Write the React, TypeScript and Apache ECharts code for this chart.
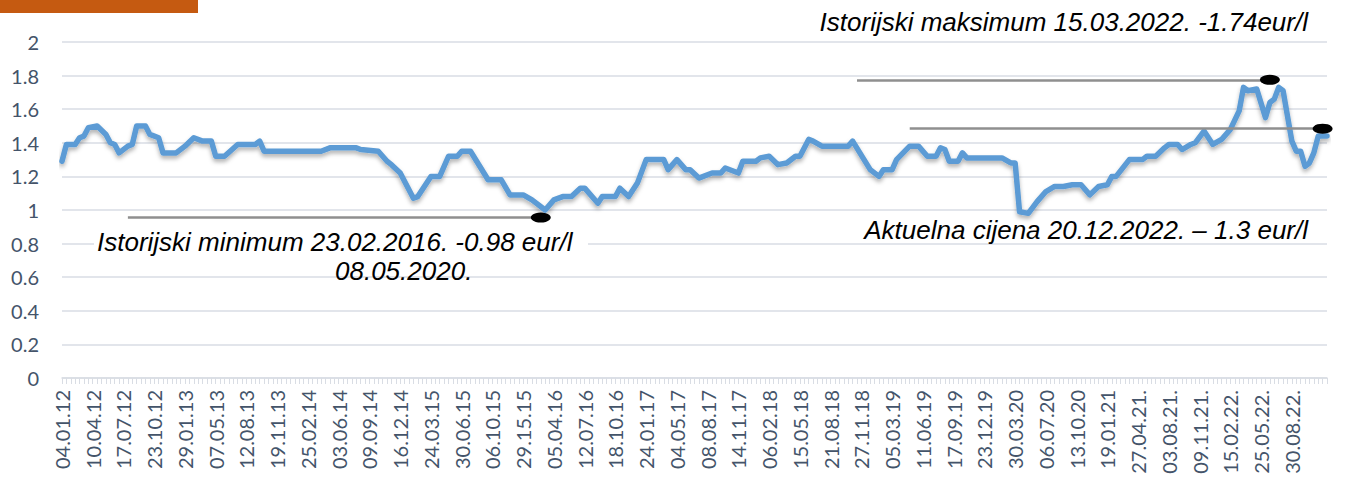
import React, { useEffect, useRef } from "react";
import * as echarts from "echarts";

// Tick labels shown on the category axis (one every 7 fortnightly price changes)
const tickLabels = [
  "04.01.12", "10.04.12", "17.07.12", "23.10.12", "29.01.13", "07.05.13", "12.08.13",
  "19.11.13", "25.02.14", "03.06.14", "09.09.14", "16.12.14", "24.03.15", "30.06.15",
  "06.10.15", "29.15.15", "05.04.16", "12.07.16", "18.10.16", "24.01.17", "04.05.17",
  "08.08.17", "14.11.17", "06.02.18", "15.05.18", "21.08.18", "27.11.18", "05.03.19",
  "11.06.19", "17.09.19", "23.12.19", "30.03.20", "06.07.20", "13.10.20", "19.01.21",
  "27.04.21.", "03.08.21.", "09.11.21.", "15.02.22.", "25.05.22.", "30.08.22.",
];
const categoriesPerLabel = 7;
const categoryCount = 289;

const changeIndex = [
  0, 1, 3, 4, 5, 6, 8, 10, 11, 12, 13, 15, 16, 17, 19, 20, 22, 23, 26, 28,
  30, 32, 34, 35, 37, 40, 44, 45, 46, 59, 61, 67, 68, 72, 74, 75, 77, 80, 81, 84,
  86, 88, 90, 91, 93, 97, 100, 102, 105, 107, 110, 112, 114, 116, 118, 119, 122, 123, 126, 127,
  129, 131, 133, 137, 138, 140, 142, 143, 145, 148, 150, 151, 154, 155, 158, 159, 161, 163, 165, 167,
  168, 170, 171, 173, 179, 180, 184, 186, 187, 189, 190, 193, 195, 197, 199, 200, 201, 202, 204, 205,
  206, 214, 216, 217, 218, 220, 222, 224, 226, 228, 230, 232, 234, 236, 238, 239, 240, 243, 246, 247,
  249, 251, 252, 254, 255, 257, 258, 260, 262, 264, 266, 268, 269, 270, 272, 274, 275, 276, 277, 278,
  280, 281, 282, 283, 284, 285, 286, 288,
];
const priceEur = [
  1.29, 1.39, 1.39, 1.43, 1.44, 1.49, 1.50, 1.45, 1.40, 1.39, 1.34, 1.38, 1.39, 1.50, 1.50, 1.45, 1.43, 1.34, 1.34, 1.38,
  1.43, 1.41, 1.41, 1.32, 1.32, 1.39, 1.39, 1.41, 1.35, 1.35, 1.37, 1.37, 1.36, 1.35, 1.29, 1.27, 1.22, 1.07, 1.08, 1.20,
  1.20, 1.32, 1.32, 1.35, 1.35, 1.18, 1.18, 1.09, 1.09, 1.06, 1.00, 1.06, 1.08, 1.08, 1.13, 1.13, 1.04, 1.08, 1.08, 1.13,
  1.08, 1.16, 1.30, 1.30, 1.24, 1.30, 1.24, 1.24, 1.19, 1.22, 1.22, 1.25, 1.22, 1.29, 1.29, 1.31, 1.32, 1.27, 1.28, 1.32,
  1.32, 1.42, 1.41, 1.38, 1.38, 1.41, 1.24, 1.20, 1.24, 1.24, 1.30, 1.38, 1.38, 1.32, 1.32, 1.37, 1.36, 1.29, 1.29, 1.34,
  1.31, 1.31, 1.28, 1.28, 0.99, 0.98, 1.05, 1.11, 1.14, 1.14, 1.15, 1.15, 1.09, 1.14, 1.15, 1.20, 1.20, 1.30, 1.30, 1.32,
  1.32, 1.37, 1.39, 1.39, 1.36, 1.39, 1.40, 1.47, 1.39, 1.42, 1.48, 1.59, 1.73, 1.71, 1.72, 1.55, 1.64, 1.66, 1.73, 1.71,
  1.41, 1.35, 1.35, 1.26, 1.28, 1.34, 1.44, 1.44,
];

// Annotations: reference lines [startIndex, endIndex, level] and their texts
const minimumLine = [15, 109, 0.955];
const maximumLine = [181, 275, 1.775];
const currentLine = [192.5, 286.6, 1.484];
const maximumText = "Istorijski maksimum 15.03.2022. -1.74eur/l";
const minimumText = "Istorijski minimum 23.02.2016. -0.98 eur/l";
const minimumText2 = "08.05.2020.";
const currentText = "Aktuelna cijena 20.12.2022. – 1.3 eur/l";

const categories: string[] = [];
for (let i = 0; i < categoryCount; i++) {
  categories.push(i % categoriesPerLabel === 0 ? tickLabels[i / categoriesPerLabel] ?? "" : "");
}
const seriesData = changeIndex.map((x, i) => [x, priceEur[i]]);

const refLines = [minimumLine, maximumLine, currentLine];

export default function App() {
  const ref = useRef<HTMLDivElement>(null);
  useEffect(() => {
    if (!ref.current) return;
    const chart = echarts.init(ref.current, null, { renderer: "svg" });
    const annFont = "italic 26px 'Liberation Sans', Arial, sans-serif";
    const txt = (text: string, x: number, y: number, align: string) => ({
      type: "text",
      z: 101,
      style: { text, x, y, font: annFont, fill: "#000", align, verticalAlign: "middle", textAlign: align, textVerticalAlign: "middle" },
    });
    chart.setOption({
      animation: false,
      grid: { left: 62, right: 27, top: 42, bottom: 106, containLabel: false },
      xAxis: {
        type: "category",
        data: categories,
        boundaryGap: false,
        axisLine: { lineStyle: { color: "#d9dde4", width: 1.5 } },
        axisTick: { show: true, interval: 0, length: 6, lineStyle: { color: "#d9dde4", width: 1 } },
        axisLabel: {
          interval: 0,
          rotate: 90,
          margin: 12,
          color: "#44546a",
          fontFamily: "Lato",
          fontSize: 20,
        },
        splitLine: { show: false },
      },
      yAxis: {
        type: "value",
        min: 0,
        max: 2,
        interval: 0.2,
        axisLine: { show: false },
        axisTick: { show: false },
        axisLabel: { color: "#44546a", fontFamily: "Lato", fontSize: 20, margin: 23 },
        splitLine: { lineStyle: { color: "#d9dde4", width: 1.5 } },
      },
      series: [
        {
          type: "line",
          data: seriesData,
          showSymbol: false,
          symbol: "none",
          lineStyle: {
            color: "#5b9bd5",
            width: 5.5,
            join: "round",
            cap: "round",
            shadowColor: "rgba(0,0,0,0.3)",
            shadowBlur: 4,
            shadowOffsetY: 3,
          },
          markLine: {
            silent: true,
            symbol: "none",
            label: { show: false },
            lineStyle: { color: "#8f8f8f", width: 2.5, type: "solid" },
            data: refLines.map((l) => [{ coord: [l[0], l[2]] }, { coord: [l[1], l[2]] }]),
          },
          markPoint: {
            silent: true,
            symbol: "circle",
            symbolSize: [20, 10],
            itemStyle: { color: "#000000" },
            label: { show: false },
            data: refLines.map((l) => ({ coord: [l[1], l[2]] })),
          },
        },
      ],
      graphic: [
        { type: "rect", z: 100, shape: { x: 0, y: 0, width: 198, height: 13 }, style: { fill: "#c55a11" } },
        { type: "rect", z: 100, shape: { x: 94, y: 231, width: 494, height: 23 }, style: { fill: "#ffffff" } },
        txt(maximumText, 1308, 22, "right"),
        txt(minimumText, 97, 242, "left"),
        txt(minimumText2, 335, 271, "left"),
        txt(currentText, 1308, 230, "right"),
      ],
    });
    return () => chart.dispose();
  }, []);
  return (
    <div
      ref={ref}
      style={{ position: "absolute", left: 0, top: 0, width: 1354, height: 484 }}
    />
  );
}
